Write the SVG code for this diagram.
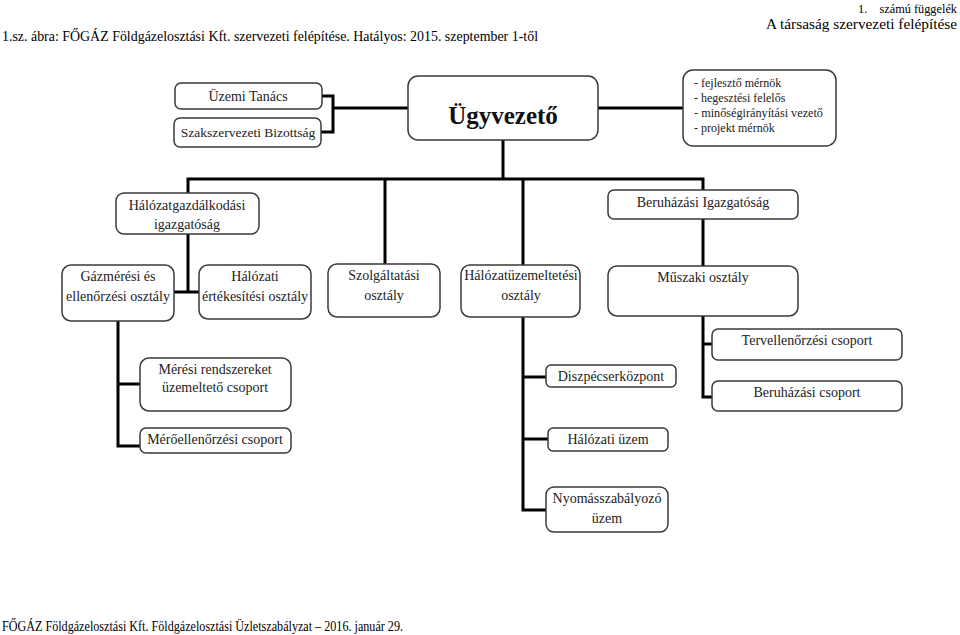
<svg xmlns="http://www.w3.org/2000/svg" width="960" height="635" viewBox="0 0 960 635">
<style>
.hdr{font-family:"Liberation Serif","Times New Roman",serif;font-size:15px;fill:#000}
.box{fill:#fff;stroke:#3a3a3a;stroke-width:1.5}
.t{font-family:"Liberation Serif","Times New Roman",serif;font-size:14px;fill:#222;text-anchor:middle}
.l{font-family:"Liberation Serif","Times New Roman",serif;font-size:12px;fill:#222}
.big{font-family:"Liberation Serif","Times New Roman",serif;font-size:25px;font-weight:bold;fill:#111;text-anchor:middle}
.c{fill:none;stroke:#000;stroke-width:3}
</style>
<rect width="960" height="635" fill="#fff"/>
<g id="header">
<text class="hdr" x="957" y="13" text-anchor="end" textLength="99" lengthAdjust="spacingAndGlyphs" style="font-size:12.5px">1.&#160;&#160;&#160;&#160;számú függelék</text>
<text class="hdr" x="957" y="29" text-anchor="end" textLength="191" lengthAdjust="spacingAndGlyphs">A társaság szervezeti felépítése</text>
<text class="hdr" x="2" y="41" textLength="536" lengthAdjust="spacingAndGlyphs">1.sz. ábra: FŐGÁZ Földgázelosztási Kft. szervezeti felépítése. Hatályos: 2015. szeptember 1-től</text>
<text class="hdr" x="2" y="631" textLength="401" lengthAdjust="spacingAndGlyphs">FŐGÁZ Földgázelosztási Kft. Földgázelosztási Üzletszabályzat – 2016. január 29.</text>
</g>
<g id="connectors">
<path class="c" d="M321,96 H333 V132 H321 M333,108 H408"/>
<path class="c" d="M598,108 H683"/>
<path class="c" d="M503,140 V179 M186.5,179 H704.5 M188,179 V292 M174,292 H199 M385,179 V265 M523,179 V265 M703,179 V266"/>
<path class="c" d="M118,321 V447.5 M118,384 H140 M116.5,446 H140"/>
<path class="c" d="M523,317 V511.5 M523,377 H546 M523,439 H548 M521.5,510 H546"/>
<path class="c" d="M703,316 V398.5 M703,344 H712 M701.5,397 H712"/>
</g>
<g id="n-uzemi"><rect class="box" x="175" y="83" width="147" height="26" rx="6"/><text class="t" x="248" y="101">Üzemi Tanács</text></g>
<g id="n-szakszervezeti"><rect class="box" x="174" y="118" width="147" height="29" rx="6"/><text class="t" x="248" y="137" style="font-size:13.5px">Szakszervezeti Bizottság</text></g>
<g id="n-ugyvezeto"><rect class="box" x="408" y="76" width="190" height="64" rx="10"/><text class="big" x="503" y="124">Ügyvezető</text></g>
<g id="n-staff"><rect class="box" x="683" y="70" width="153" height="76" rx="10"/>
<text class="l" x="694" y="87">- fejlesztő mérnök</text>
<text class="l" x="694" y="102">- hegesztési felelős</text>
<text class="l" x="694" y="117" textLength="129" lengthAdjust="spacingAndGlyphs">- minőségirányítási vezető</text>
<text class="l" x="694" y="132">- projekt mérnök</text></g>
<g id="n-halozatgazd"><rect class="box" x="116" y="193" width="143" height="41" rx="8"/><text class="t" x="187" y="210">Hálózatgazdálkodási</text><text class="t" x="187" y="229">igazgatóság</text></g>
<g id="n-beruhazasi-ig"><rect class="box" x="608" y="190" width="190" height="29" rx="6"/><text class="t" x="703" y="207">Beruházási Igazgatóság</text></g>
<g id="n-gazmeresi"><rect class="box" x="62" y="265" width="112" height="56" rx="9"/><text class="t" x="118" y="281">Gázmérési és</text><text class="t" x="118" y="301">ellenőrzési osztály</text></g>
<g id="n-halozati-ert"><rect class="box" x="199" y="265" width="112" height="54" rx="9"/><text class="t" x="255" y="281">Hálózati</text><text class="t" x="255" y="301">értékesítési osztály</text></g>
<g id="n-szolgaltatasi"><rect class="box" x="328" y="264" width="112" height="53" rx="9"/><text class="t" x="384" y="280">Szolgáltatási</text><text class="t" x="384" y="300">osztály</text></g>
<g id="n-halozatuzem"><rect class="box" x="461" y="265" width="119" height="52" rx="9"/><text class="t" x="521" y="280">Hálózatüzemeltetési</text><text class="t" x="521" y="300">osztály</text></g>
<g id="n-muszaki"><rect class="box" x="608" y="266" width="190" height="50" rx="9"/><text class="t" x="703" y="282">Műszaki osztály</text></g>
<g id="n-meresi"><rect class="box" x="140" y="358" width="151" height="53" rx="9"/><text class="t" x="215" y="374">Mérési rendszereket</text><text class="t" x="215" y="392">üzemeltető csoport</text></g>
<g id="n-meroell"><rect class="box" x="140" y="428" width="151" height="25" rx="6"/><text class="t" x="215" y="444">Mérőellenőrzési csoport</text></g>
<g id="n-diszpecser"><rect class="box" x="546" y="365" width="130" height="22" rx="5"/><text class="t" x="611" y="381">Diszpécserközpont</text></g>
<g id="n-halozati-uzem"><rect class="box" x="548" y="428" width="120" height="23" rx="5"/><text class="t" x="608" y="444">Hálózati üzem</text></g>
<g id="n-nyomas"><rect class="box" x="546" y="487" width="122" height="45" rx="8"/><text class="t" x="607" y="503">Nyomásszabályozó</text><text class="t" x="607" y="523">üzem</text></g>
<g id="n-tervell"><rect class="box" x="712" y="329" width="190" height="31" rx="6"/><text class="t" x="807" y="345">Tervellenőrzési csoport</text></g>
<g id="n-beruhazasi-cs"><rect class="box" x="712" y="381" width="190" height="30" rx="6"/><text class="t" x="807" y="397">Beruházási csoport</text></g>
</svg>
